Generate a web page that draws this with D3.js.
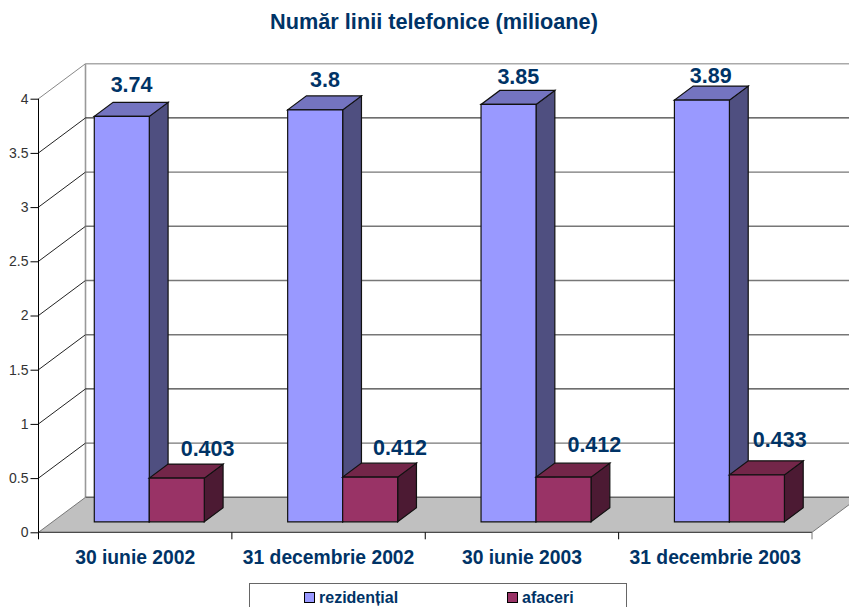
<!DOCTYPE html>
<html>
<head>
<meta charset="utf-8">
<script src="https://cdn.jsdelivr.net/npm/d3@7"></script>
<style>
html, body { margin: 0; padding: 0; background: #fff; overflow: hidden; }
text { font-family: "Liberation Sans", Arial, sans-serif; }
</style>
</head>
<body>
<script>
var categories = ["30 iunie 2002", "31 decembrie 2002", "30 iunie 2003", "31 decembrie 2003"];
var seriesNames = ["rezidențial", "afaceri"];
var rezidential = [3.74, 3.8, 3.85, 3.89];
var afaceri = [0.403, 0.412, 0.412, 0.433];
var yTicks = [0, 0.5, 1, 1.5, 2, 2.5, 3, 3.5, 4];

var width = 849, height = 607;
var navy = "#003366";
// culori: fata, lateral, sus
var faceColors = ["#9999FF", "#993366"];
var sideColors = ["#4F4F80", "#4C1A33"];
var topColors = ["#7474C0", "#732649"];

var svg = d3.select("body").append("svg")
    .attr("width", width)
    .attr("height", height)
    .style("display", "block");

var x0 = d3.scaleBand().domain(categories).range([38.5, 812]);
var x1 = d3.scaleBand().domain(seriesNames).range([0, x0.bandwidth()]).paddingOuter(0.758);
var y = d3.scaleLinear().domain([0, 4]).range([532.3, 98.7]);

// proiectie oblica: z=0 in fata, z=1 pe peretele din spate
var depthX = d3.scaleLinear().domain([0, 1]).range([0, 47]);
var depthY = d3.scaleLinear().domain([0, 1]).range([0, -35]);
function pt(px, py, z) {
    return [px + depthX(z), py + depthY(z)];
}
function poly(points, fill, stroke, sw) {
    svg.append("polygon")
        .attr("points", points.map(function (p) { return p.join(","); }).join(" "))
        .attr("fill", fill)
        .attr("stroke", stroke || "none")
        .attr("stroke-width", sw || 1)
        .attr("stroke-linejoin", "miter");
}

// podeaua
var xMin = x0.range()[0], xMax = x0.range()[1];
poly([pt(xMin, y(0), 0), pt(xMax, y(0), 0), pt(xMax, y(0), 1), pt(xMin, y(0), 1)], "#C0C0C0");

// peretele din spate si liniile de grila
svg.append("line")
    .attr("x1", pt(xMin, y(0), 1)[0]).attr("y1", pt(xMin, y(0), 1)[1])
    .attr("x2", pt(xMin, y(4), 1)[0]).attr("y2", pt(xMin, y(4), 1)[1])
    .attr("stroke", "#999").attr("stroke-width", 1.6);

yTicks.forEach(function (t) {
    var a = pt(xMin, y(t), 0), b = pt(xMin, y(t), 1), c = pt(xMax, y(t), 1);
    var dark = t === 1 || t === 3.5;
    var top = t === 4;
    var col = dark ? "#111" : (top ? "#aaa" : (t === 0 ? "#666" : "#777"));
    if (t > 0) {
        svg.append("line")
            .attr("x1", a[0]).attr("y1", a[1]).attr("x2", b[0]).attr("y2", b[1])
            .attr("stroke", top ? "#888" : "#222").attr("stroke-width", 1);
    }
    svg.append("line")
        .attr("x1", b[0]).attr("y1", b[1]).attr("x2", c[0]).attr("y2", c[1])
        .attr("stroke", col).attr("stroke-width", dark ? 1 : 1.4);
});

// marginea din dreapta a podelei
svg.append("line")
    .attr("x1", pt(xMax, y(0), 0)[0]).attr("y1", pt(xMax, y(0), 0)[1])
    .attr("x2", pt(xMax, y(0), 1)[0]).attr("y2", pt(xMax, y(0), 1)[1])
    .attr("stroke", "#777");
// marginea din stanga a podelei
svg.append("line")
    .attr("x1", pt(xMin, y(0), 0)[0]).attr("y1", pt(xMin, y(0), 0)[1])
    .attr("x2", pt(xMin, y(0), 1)[0]).attr("y2", pt(xMin, y(0), 1)[1])
    .attr("stroke", "#777");

// barele
var zFront = 0.3, zBack = 0.7;
var seriesValues = [rezidential, afaceri];
function drawBar(cat, si, value) {
    var left = x0(cat) + x1(seriesNames[si]);
    var right = left + x1.bandwidth();
    var base = y(0), topY = y(value);
    poly([pt(right, base, zFront), pt(right, base, zBack), pt(right, topY, zBack), pt(right, topY, zFront)], sideColors[si], "#111", 1.2);
    poly([pt(left, topY, zFront), pt(right, topY, zFront), pt(right, topY, zBack), pt(left, topY, zBack)], topColors[si], "#111", 1.2);
    poly([pt(left, base, zFront), pt(right, base, zFront), pt(right, topY, zFront), pt(left, topY, zFront)], faceColors[si], "#111", 1.2);
}
categories.forEach(function (cat, i) {
    seriesValues.forEach(function (vals, si) {
        drawBar(cat, si, vals[i]);
    });
});

// axa Y
var yAxis = d3.axisLeft(y).tickValues(yTicks).tickSize(8).tickPadding(2)
    .tickFormat(function (d) { return String(d); });
var gy = svg.append("g").attr("transform", "translate(" + xMin + ",0)").call(yAxis);
gy.select(".domain").attr("stroke", "#000").attr("d", "M0," + y(4) + "V" + y(0));
gy.selectAll(".tick line").attr("stroke", "#000");
gy.selectAll("text").attr("fill", "#333").style("font-size", "14px").style("font-family", "Liberation Sans");

// axa X
var xAxis = d3.axisBottom(x0).tickSize(0).tickPadding(18);
var gx = svg.append("g").attr("transform", "translate(0," + y(0) + ")").call(xAxis);
gx.select(".domain").attr("stroke", "#222").attr("d", "M" + xMin + ",0H" + xMax);
gx.selectAll("text").attr("fill", navy).attr("font-weight", "bold")
    .style("font-size", "19.3px").style("font-family", "Liberation Sans");
var bounds = categories.map(function (c) { return x0(c); }).concat([xMax]);
bounds.forEach(function (b, i) {
    svg.append("line")
        .attr("x1", b).attr("x2", b).attr("y1", y(0)).attr("y2", y(0) + 7)
        .attr("stroke", i === bounds.length - 1 ? "#777" : "#000");
});

// etichetele: asezate cu mana in original, de aici corectiile
var labelShift = [[-10, -9], [-9, -9], [-6, -9], [-3, -10]];
var lowShift = [[-8, 12], [-8, 11], [-11, 12], [-14, 4]];
categories.forEach(function (cat, i) {
    [0, 1].forEach(function (si) {
        var v = seriesValues[si][i];
        var s = si === 0 ? labelShift[i] : lowShift[i];
        var cx = x0(cat) + x1(seriesNames[si]) + x1.bandwidth() / 2;
        var p = pt(cx, y(v), zBack);
        svg.append("text")
            .attr("x", p[0] + s[1])
            .attr("y", p[1] + s[0])
            .attr("text-anchor", "middle")
            .attr("fill", navy)
            .attr("font-weight", "bold")
            .style("font-size", "21.5px")
            .text(String(v));
    });
});

// titlul
svg.append("text")
    .attr("x", 434).attr("y", 29)
    .attr("text-anchor", "middle")
    .attr("fill", navy).attr("font-weight", "bold")
    .style("font-size", "21.7px")
    .text("Număr linii telefonice (milioane)");

// legenda
svg.append("rect")
    .attr("x", 249.5).attr("y", 583.5).attr("width", 377).attr("height", 40)
    .attr("fill", "#fff").attr("stroke", "#666");
var legendX = d3.scaleOrdinal().domain(seriesNames).range([304, 507]);
seriesNames.forEach(function (name, si) {
    svg.append("rect")
        .attr("x", legendX(name) + 0.5).attr("y", 592.5).attr("width", 10).attr("height", 10)
        .attr("fill", faceColors[si]).attr("stroke", "#000");
    svg.append("text")
        .attr("x", legendX(name) + 15).attr("y", 603)
        .attr("fill", navy).attr("font-weight", "bold")
        .style("font-size", "16px")
        .text(name);
});
</script>
</body>
</html>
